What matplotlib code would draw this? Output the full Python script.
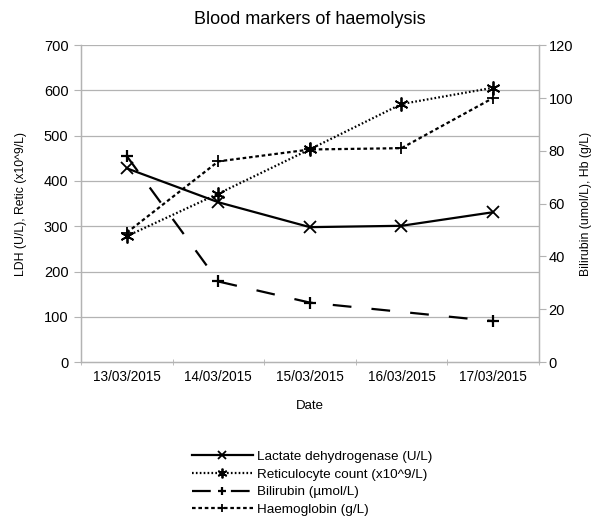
import matplotlib
matplotlib.use("Agg")
import matplotlib.pyplot as plt
import numpy as np

plt.rcParams['font.family'] = ['Liberation Sans', 'DejaVu Sans']
plt.rcParams['lines.scale_dashes'] = False

dates = ["13/03/2015", "14/03/2015", "15/03/2015", "16/03/2015", "17/03/2015"]
ldh = [428, 353, 298, 301, 331]
retic = [278, 372, 470, 570, 606]
bilirubin = [78, 30.5, 22.5, None, 15.5]
haemoglobin = [49, 76, 80.5, 81, 100]

fig = plt.figure(figsize=(5.93, 5.16), dpi=100)
ax = fig.add_axes([0.1366, 0.2984, 0.772, 0.614])
ax2 = ax.twinx()

x = np.arange(len(dates))
ax.set_xlim(-0.5, len(dates) - 0.5)
ax.set_ylim(0, 700)
ax2.set_ylim(0, 120)

l1, = ax.plot(x, ldh, color='black', lw=1.6, marker='x', ms=8, mew=1.3,
              label='Lactate dehydrogenase (U/L)')
l2, = ax.plot(x, retic, color='black', lw=1.6, linestyle=(0, (1.2, 1.6)),
              marker=(6, 2, 0), ms=10, mew=1.3, label='Reticulocyte count (x10^9/L)')
bx = [xi for xi, v in zip(x, bilirubin) if v is not None]
bv = [v for v in bilirubin if v is not None]
l3, = ax2.plot(bx, bv, color='black', lw=1.6, linestyle=(0, (13.5, 14.5)),
               marker='+', ms=9, mew=1.6, label='Bilirubin (µmol/L)')
l4, = ax2.plot(x, haemoglobin, color='black', lw=1.6, linestyle=(0, (2.6, 2.0)),
               marker='+', ms=9, mew=1.3, label='Haemoglobin (g/L)')

grid_c = '#b3b3b3'
ax.set_yticks(np.arange(0, 701, 100))
ax2.set_yticks(np.arange(0, 121, 20))
for yv in np.arange(100, 701, 100):
    ax.axhline(yv, color=grid_c, lw=0.9, zorder=0)

ax.set_xticks(x)
ax.set_xticklabels(dates)
ax.set_xticks(np.arange(-0.5, len(dates), 1), minor=True)
ax.tick_params(axis='x', which='major', length=0, pad=6, labelsize=9.8)
ax.tick_params(axis='x', which='minor', length=5, direction='inout', color=grid_c)
ax.tick_params(axis='y', length=5, color=grid_c, labelsize=10.5, pad=4)
ax2.tick_params(axis='y', length=5, color=grid_c, labelsize=10.5, pad=2)

for a in (ax, ax2):
    for s in a.spines.values():
        s.set_color(grid_c)
        s.set_linewidth(0.9)
    a.spines['top'].set_visible(False)

ax.set_xlabel('Date', fontsize=9.5, labelpad=11)
ax.set_ylabel('LDH (U/L), Retic (x10^9/L)', fontsize=8.8, labelpad=12)
ax2.set_ylabel('Bilirubin (umol/L), Hb (g/L)', fontsize=8.8, labelpad=5)
ax.set_title('Blood markers of haemolysis', fontsize=13, pad=15)

fig.legend(handles=[l1, l2, l3, l4], loc='upper left', bbox_to_anchor=(0.315, 0.137),
           frameon=False, fontsize=9.7, handlelength=4.5, labelspacing=0.38,
           handletextpad=0.3, borderaxespad=0, markerscale=0.7)

fig.savefig('out.png', dpi=100)
